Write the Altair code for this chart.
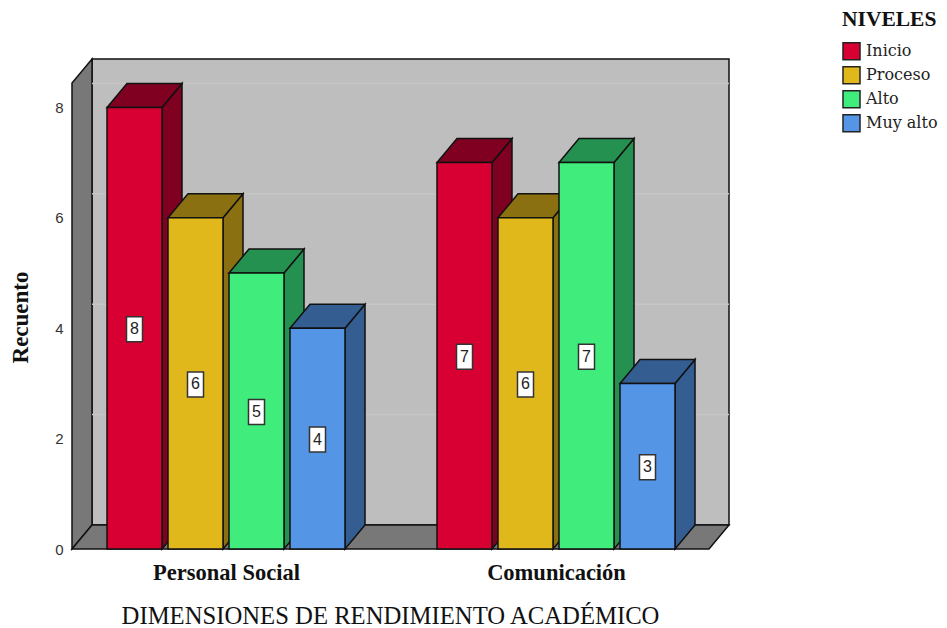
import altair as alt
import pandas as pd

categories = ["Personal Social", "Comunicación"]
levels = ["Inicio", "Proceso", "Alto", "Muy alto"]
counts = {
    "Personal Social": [8, 6, 5, 4],
    "Comunicación": [7, 6, 7, 3],
}
front_colors = ["#d80032", "#e0b81c", "#40ec7c", "#5595e6"]
top_colors = ["#7f0020", "#8a7010", "#259150", "#345d92"]

# plot geometry: x in bar-slot units, y in counts
SLOT = 61.0
PPU = 55.2
BAR_W = 55 / SLOT
DX = 20 / SLOT
DY = 24 / PPU
X_MAX = 657 / SLOT
Y_MAX = 490 / PPU
GROUP_START = [35 / SLOT, 365 / SLOT]

xs = alt.Scale(domain=[0, X_MAX], nice=False, zero=False)
ys = alt.Scale(domain=[0, Y_MAX], nice=False, zero=False)
SERIF = "Liberation Serif"
SANS = "Liberation Sans"
centers = [g + (3 + BAR_W) / 2 for g in GROUP_START]
label_expr = f"datum.value < {(centers[0] + centers[1]) / 2} ? '{categories[0]}' : '{categories[1]}'"

x_axis = alt.Axis(
    values=centers, labelExpr=label_expr, title="DIMENSIONES DE RENDIMIENTO ACADÉMICO",
    domain=False, ticks=False, grid=False, labelFont=SERIF, labelFontWeight="bold",
    labelFontSize=22.5, labelColor="#111111", labelPadding=12, titleFont=SERIF,
    titleFontWeight="normal", titleFontSize=24.7, titleColor="#111111",
    titleX=318, titleY=54)
y_axis = alt.Axis(
    values=[0, 2, 4, 6, 8], title="Recuento", domain=False, ticks=False, grid=False,
    labelFont=SANS, labelFontSize=15, labelColor="#333333", labelPadding=9,
    titleFont=SERIF, titleFontWeight="bold", titleFontSize=23, titleColor="#111111",
    titleX=-40, titleY=258)
X = alt.X("x:Q", scale=xs, axis=x_axis)
Y = alt.Y("y:Q", scale=ys, axis=y_axis)


def poly(x, lo, hi, fill, sw=1.5):
    df = pd.DataFrame({"x": x, "y": lo, "hi": hi})
    return alt.Chart(df).mark_area(
        fill=fill, stroke="#111111", strokeWidth=sw, interpolate="linear", opacity=1
    ).encode(x=X, y=Y, y2="hi:Q")


def top_face(x0, x1, v, fill):
    return poly([x0, x0 + DX, x1, x1 + DX], [v, v, v, v + DY],
                [v, v + DY, v + DY, v + DY], fill)


layers = []

# back wall
wall = pd.DataFrame({"x": [DX], "x2": [X_MAX], "y": [DY], "y2": [Y_MAX]})
layers.append(
    alt.Chart(wall).mark_rect(fill="#bebebe", stroke="#111111", strokeWidth=1.5).encode(
        x=X, x2="x2:Q", y=Y, y2="y2:Q")
)

# left wall and floor
layers.append(poly([0, DX], [0, DY], [Y_MAX - DY, Y_MAX], "#787878"))
layers.append(top_face(0, X_MAX - DX, 0, "#787878"))

# back wall gridlines
grid = pd.DataFrame({"x": [DX] * 4, "x2": [X_MAX] * 4, "y": [DY + v for v in [2, 4, 6, 8]]})
layers.append(
    alt.Chart(grid).mark_rule(color="#c6c6c6", strokeWidth=1.5).encode(x=X, x2="x2:Q", y=Y)
)

# 3D bars, drawn left to right
labels = []
for g, cat in zip(GROUP_START, categories):
    for i, (lev, v) in enumerate(zip(levels, counts[cat])):
        x0 = g + i
        x1 = x0 + BAR_W
        layers.append(poly([x1, x1 + DX], [0, DY], [v, v + DY], top_colors[i]))
        layers.append(top_face(x0, x1, v, top_colors[i]))
        front = pd.DataFrame({"x": [x0], "x2": [x1], "y": [0], "y2": [v], "nivel": [lev]})
        layers.append(
            alt.Chart(front).mark_rect(stroke="#111111", strokeWidth=1.5, opacity=1).encode(
                x=X, x2="x2:Q", y=Y, y2="y2:Q",
                color=alt.Color("nivel:N", scale=alt.Scale(domain=levels, range=front_colors),
                                legend=alt.Legend(
                                    title="NIVELES", orient="none", legendX=770, legendY=-50,
                                    titleFont=SERIF, titleFontWeight="bold", titleFontSize=21.5,
                                    titleColor="#111111", titlePadding=9,
                                    labelFont="DejaVu Serif", labelFontSize=16, labelColor="#222222",
                                    symbolType="square", symbolSize=290, symbolStrokeColor="#222222",
                                    symbolStrokeWidth=1.5, symbolOpacity=1, rowPadding=0,
                                    clipHeight=23.3, labelOffset=5)),
            )
        )
        labels.append({"x": x0 + BAR_W / 2, "y": v / 2, "t": str(v)})

lab = pd.DataFrame(labels)
layers.append(
    alt.Chart(lab).mark_rect(width=16, height=25, yOffset=1, fill="white", stroke="#333333", strokeWidth=1.5).encode(
        x=X, y=Y)
)
layers.append(
    alt.Chart(lab).mark_text(font=SANS, fontSize=16, color="#222222", dy=1).encode(
        x=X, y=Y, text="t:N")
)

chart = alt.layer(*layers).properties(
    width=657, height=490,
    padding={"left": 64, "top": 51, "right": 210, "bottom": 79},
    autosize=alt.AutoSizeParams(type="none"),
).configure_view(stroke=None)

chart.save("out.html", embed_options={"renderer": "svg", "actions": False})
